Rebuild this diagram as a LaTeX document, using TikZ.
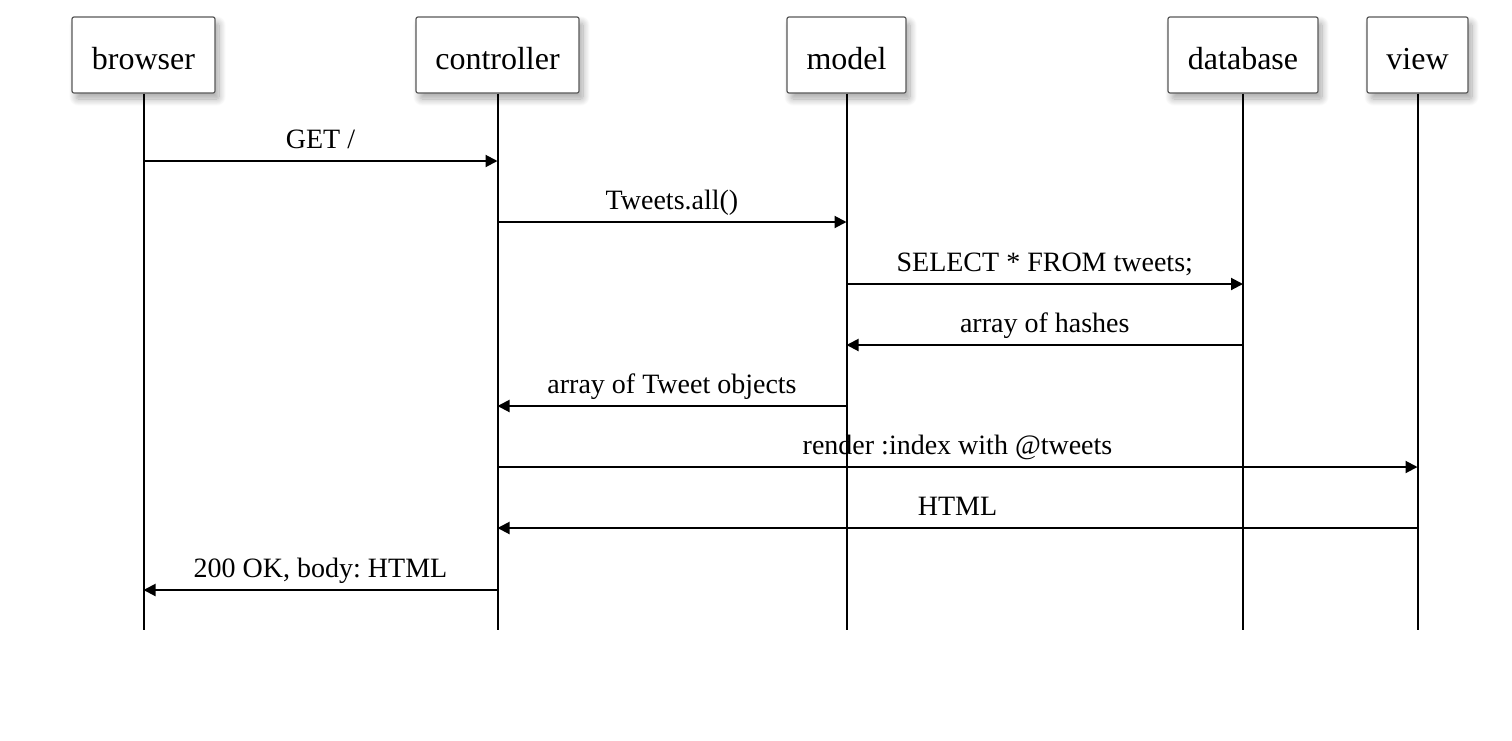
\documentclass[tikz,border=0pt]{standalone}
\usepackage{fontspec}
\setmainfont{Liberation Serif}
\usetikzlibrary{arrows.meta,shadows.blur}
\frenchspacing
\begin{document}
\begin{tikzpicture}[x=1pt,y=-1pt,
  actor/.style={draw=black!65, line width=1.2pt, fill=white, rounded corners=2pt,
    minimum height=76pt, inner sep=0pt, text height=28pt, text depth=0pt,
    font=\fontsize{32}{36}\selectfont,
    blur shadow={shadow xshift=4pt, shadow yshift=-6pt, shadow blur steps=10, shadow blur radius=7pt, shadow opacity=35}},
  life/.style={line width=2pt},
  msg/.style={line width=2pt, -{Triangle[length=12pt,width=12pt]}},
  lbl/.style={anchor=base, font=\fontsize{28}{32}\selectfont, inner sep=0pt}]
\useasboundingbox (0,0) rectangle (1512,740);
\node[actor, minimum width=143pt] (browser) at (143.5,55) {browser};
\node[actor, minimum width=163pt] (controller) at (497.5,55) {controller};
\node[actor, minimum width=119pt] (model) at (846.5,55) {model};
\node[actor, minimum width=150pt] (database) at (1243,55) {database};
\node[actor, minimum width=101pt] (view) at (1417.5,55) {view};
\foreach \n in {browser,controller,model,database,view}{
  \coordinate (\n-end) at (\n.south |- 0,630);
  \draw[life] (\n.south) -- (\n-end);
}
\newcommand{\msgline}[4]{%
  \draw[msg] (#1.south |- 0,#3) -- (#2.south |- 0,#3);
  \path (#1.south |- 0,#3) -- (#2.south |- 0,#3) coordinate[midway] (m#3);
  \node[lbl] (l#3) at ([yshift=13pt]m#3) {#4};}
\msgline{browser}{controller}{161}{GET /}
\msgline{controller}{model}{222}{Tweets.all()}
\msgline{model}{database}{284}{SELECT * FROM tweets;}
\msgline{database}{model}{345}{array of hashes}
\msgline{model}{controller}{406}{array of Tweet objects}
\msgline{controller}{view}{467}{render :index with @tweets}
\msgline{view}{controller}{528}{HTML}
\msgline{controller}{browser}{590}{200 OK, body: HTML}
\end{tikzpicture}
\end{document}
